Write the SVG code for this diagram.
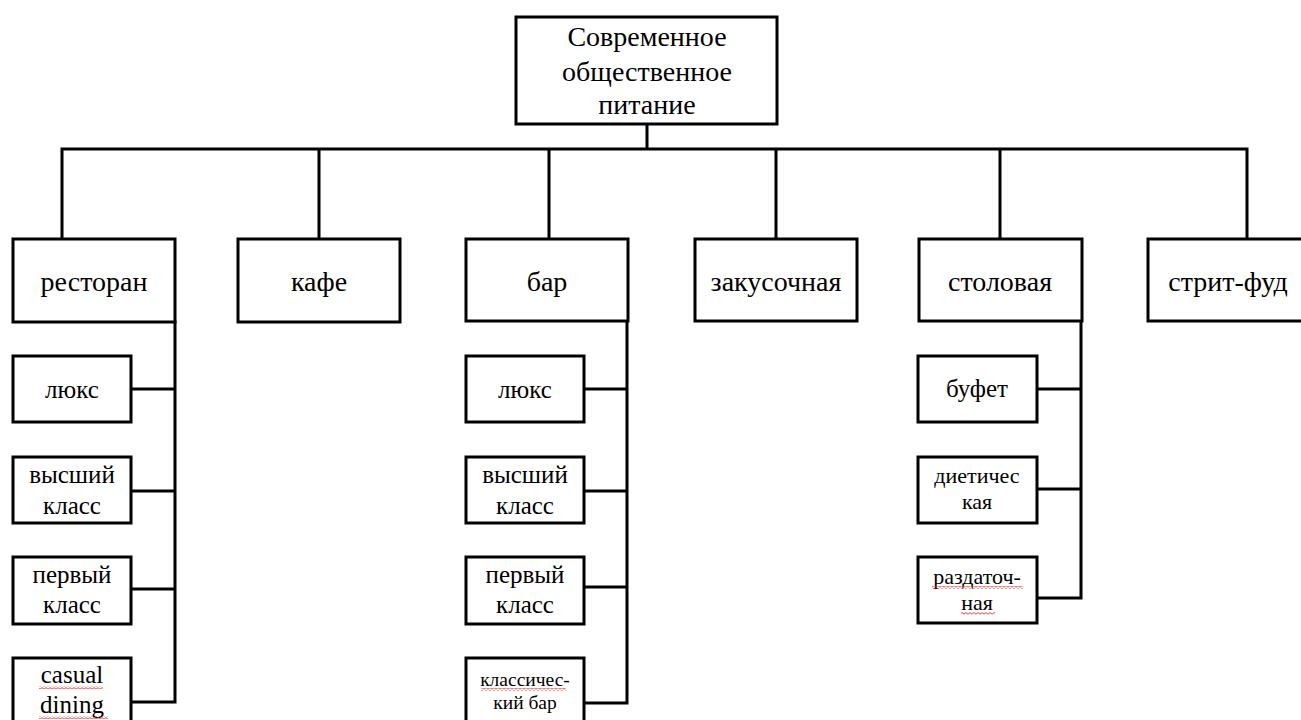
<svg xmlns="http://www.w3.org/2000/svg" width="1301" height="720" viewBox="0 0 1301 720">
<style>
.box{fill:#fff;stroke:#000;stroke-width:3}
.ln{fill:none;stroke:#000;stroke-width:3;stroke-linecap:square}
text{font-family:'Liberation Serif','Tinos','DejaVu Serif',serif;text-anchor:middle;fill:#000}
.l0{font-size:28px}
.l1{font-size:28px}
.l2{font-size:25px}
.l3{font-size:22px}
.l4{font-size:19.5px}
</style>
<defs>
<pattern id="wave" x="0" y="0" width="4" height="3" patternUnits="userSpaceOnUse">
<path d="M0,2.2 L2,0.6 L4,2.2" fill="none" stroke="#e0302a" stroke-width="0.9"/>
</pattern>
</defs>
<rect width="1301" height="720" fill="#fff"/>
<g id="connectors">
<path class="ln" d="M647,124 V149 M62,149 H1247 M62,149 V239 M319,149 V239 M549,149 V239 M776,149 V239 M1000,149 V239 M1247,149 V239"/>
<path class="ln" d="M175,322 V702 M131,389 H175 M131,491 H175 M131,589 H175 M131,702 H175"/>
<path class="ln" d="M627,321 V703 M584,389 H627 M584,491 H627 M584,587 H627 M584,703 H627"/>
<path class="ln" d="M1081,321 V598 M1037,389 H1081 M1037,489 H1081 M1037,598 H1081"/>
</g>
<g id="root">
<rect class="box" x="516" y="17" width="261" height="107"/>
<text class="l0" x="647" y="46" font-family="Liberation Serif, serif">Современное</text>
<text class="l0" x="647" y="81" font-family="Liberation Serif, serif">общественное</text>
<text class="l0" x="647" y="114" font-family="Liberation Serif, serif">питание</text>
</g>
<g id="restoran">
<rect class="box" x="13" y="239" width="162" height="83"/>
<text class="l1" x="94" y="291">ресторан</text>
</g>
<g id="kafe">
<rect class="box" x="238" y="239" width="162" height="83"/>
<text class="l1" x="319" y="291">кафе</text>
</g>
<g id="bar">
<rect class="box" x="466" y="239" width="162" height="82"/>
<text class="l1" x="547" y="291">бар</text>
</g>
<g id="zakusochnaya">
<rect class="box" x="695" y="239" width="162" height="82"/>
<text class="l1" x="776" y="291">закусочная</text>
</g>
<g id="stolovaya">
<rect class="box" x="919" y="239" width="163" height="82"/>
<text class="l1" x="1000" y="291">столовая</text>
</g>
<g id="street-food">
<rect class="box" x="1148" y="239" width="162" height="82"/>
<text class="l1" x="1228" y="291">стрит-фуд</text>
</g>
<g id="r-lux">
<rect class="box" x="13" y="356" width="118" height="66"/>
<text class="l2" x="72" y="398">люкс</text>
</g>
<g id="r-high">
<rect class="box" x="13" y="457" width="118" height="66"/>
<text class="l2" x="72" y="483">высший</text>
<text class="l2" x="72" y="514">класс</text>
</g>
<g id="r-first">
<rect class="box" x="13" y="557" width="118" height="67"/>
<text class="l2" x="72" y="583">первый</text>
<text class="l2" x="72" y="613">класс</text>
</g>
<g id="r-casual">
<rect class="box" x="13" y="658" width="118" height="70"/>
<text class="l2" x="72" y="683">casual</text>
<text class="l2" x="72" y="713">dining</text>
<rect x="39" y="686" width="64" height="3" fill="url(#wave)"/>
<rect x="39" y="716" width="69" height="3" fill="url(#wave)"/>
</g>
<g id="b-lux">
<rect class="box" x="466" y="356" width="118" height="66"/>
<text class="l2" x="525" y="398">люкс</text>
</g>
<g id="b-high">
<rect class="box" x="466" y="457" width="118" height="66"/>
<text class="l2" x="525" y="483">высший</text>
<text class="l2" x="525" y="514">класс</text>
</g>
<g id="b-first">
<rect class="box" x="466" y="557" width="118" height="67"/>
<text class="l2" x="525" y="583">первый</text>
<text class="l2" x="525" y="613">класс</text>
</g>
<g id="b-classic">
<rect class="box" x="466" y="658" width="118" height="70"/>
<text class="l4" x="525" y="686">классичес-</text>
<text class="l4" x="525" y="709">кий бар</text>
<rect x="481" y="688" width="85" height="3" fill="url(#wave)"/>
</g>
<g id="s-buffet">
<rect class="box" x="918" y="356" width="119" height="66"/>
<text class="l2" x="977" y="397">буфет</text>
</g>
<g id="s-diet">
<rect class="box" x="918" y="457" width="119" height="66"/>
<text class="l3" x="977" y="483">диетичес</text>
<text class="l3" x="977" y="509">кая</text>
</g>
<g id="s-razd">
<rect class="box" x="918" y="557" width="119" height="66"/>
<text class="l3" x="977" y="584">раздаточ-</text>
<text class="l3" x="977" y="610">ная</text>
<rect x="932" y="586" width="91" height="3" fill="url(#wave)"/>
<rect x="961" y="612" width="34" height="3" fill="url(#wave)"/>
</g>
</svg>
